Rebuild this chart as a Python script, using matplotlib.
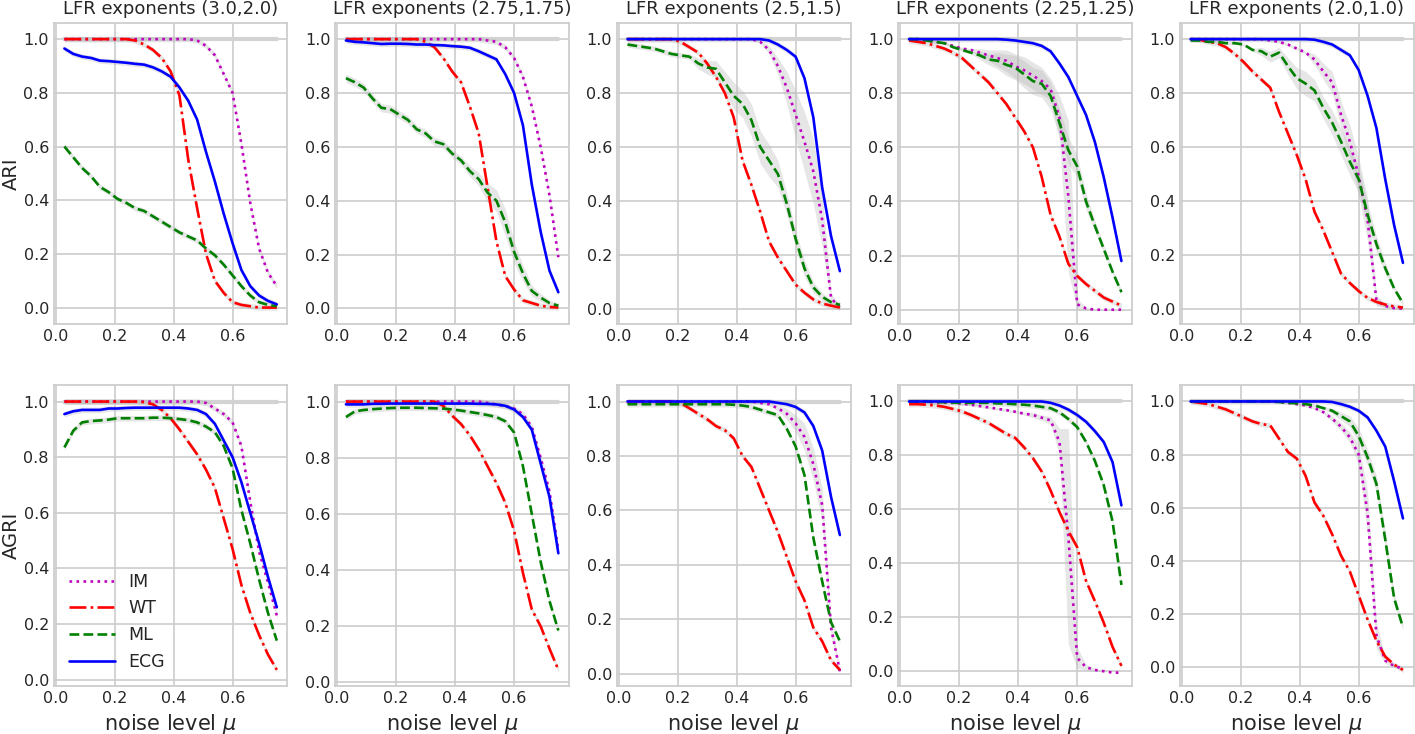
import matplotlib
matplotlib.use('Agg')
import matplotlib.pyplot as plt
import numpy as np

# noise levels
mu = [0.03, 0.06, 0.09, 0.12, 0.15, 0.18, 0.21, 0.24, 0.27, 0.30, 0.33, 0.36, 0.39,
      0.42, 0.45, 0.48, 0.51, 0.54, 0.57, 0.60, 0.63, 0.66, 0.69, 0.72, 0.75]

exponents = ['(3.0,2.0)', '(2.75,1.75)', '(2.5,1.5)', '(2.25,1.25)', '(2.0,1.0)']
methods = ['IM', 'WT', 'ML', 'ECG']
row_labels = ['ARI', 'AGRI']

# ---------------- ARI (top row) ----------------
ari1_im = [1.0]*15 + [0.995, 0.975, 0.94, 0.87, 0.80, 0.61, 0.39, 0.22, 0.13, 0.08]
ari1_wt = [1.0]*8 + [0.995, 0.98, 0.96, 0.93, 0.88, 0.79, 0.55, 0.37, 0.20, 0.10, 0.055, 0.02, 0.01, 0.005, 0.0, 0.0, 0.0]
ari1_ml = [0.60, 0.56, 0.52, 0.49, 0.45, 0.43, 0.405, 0.39, 0.37, 0.36, 0.34, 0.32, 0.30, 0.28, 0.265, 0.25,
           0.22, 0.195, 0.16, 0.12, 0.08, 0.045, 0.02, 0.01, 0.005]
ari1_ecg = [0.965, 0.945, 0.935, 0.93, 0.92, 0.918, 0.915, 0.912, 0.908, 0.905, 0.895, 0.88, 0.86, 0.82, 0.77,
            0.70, 0.58, 0.47, 0.35, 0.24, 0.14, 0.08, 0.045, 0.025, 0.012]

ari2_im = [1.0]*16 + [0.995, 0.99, 0.97, 0.93, 0.86, 0.75, 0.60, 0.42, 0.19]
ari2_wt = [1.0]*9 + [0.99, 0.97, 0.93, 0.88, 0.84, 0.75, 0.65, 0.45, 0.25, 0.12, 0.07, 0.03, 0.02, 0.01, 0.005, 0.003]
ari2_ml = [0.855, 0.84, 0.82, 0.78, 0.745, 0.74, 0.72, 0.70, 0.665, 0.65, 0.62, 0.61, 0.575, 0.55, 0.51, 0.48,
           0.43, 0.40, 0.32, 0.21, 0.13, 0.065, 0.04, 0.02, 0.01]
ari2_ecg = [0.995, 0.99, 0.988, 0.985, 0.982, 0.983, 0.983, 0.982, 0.98, 0.98, 0.978, 0.977, 0.974, 0.972, 0.968,
            0.955, 0.94, 0.925, 0.87, 0.80, 0.68, 0.46, 0.285, 0.14, 0.06]

ari3_im = [1.0]*15 + [0.99, 0.96, 0.90, 0.82, 0.72, 0.62, 0.51, 0.33, 0.04, 0.005]
ari3_wt = [1.0]*6 + [0.99, 0.97, 0.95, 0.91, 0.86, 0.80, 0.71, 0.55, 0.46, 0.36, 0.25, 0.19, 0.14, 0.09, 0.06,
                     0.035, 0.02, 0.012, 0.005]
ari3_ml = [0.98, 0.975, 0.97, 0.965, 0.955, 0.945, 0.94, 0.935, 0.91, 0.895, 0.89, 0.84, 0.79, 0.76, 0.70, 0.60,
           0.55, 0.50, 0.39, 0.26, 0.15, 0.08, 0.045, 0.025, 0.015]
ari3_ecg = [1.0]*16 + [0.995, 0.98, 0.96, 0.935, 0.855, 0.71, 0.45, 0.27, 0.14]

ari4_im = [1.0, 1.0, 0.995, 0.99, 0.985, 0.975, 0.965, 0.96, 0.95, 0.94, 0.93, 0.92, 0.90, 0.885, 0.865, 0.845,
           0.815, 0.71, 0.42, 0.02, 0.005, 0.0, 0.0, 0.0, 0.0]
ari4_wt = [0.995, 0.99, 0.985, 0.975, 0.965, 0.95, 0.93, 0.90, 0.87, 0.84, 0.80, 0.76, 0.71, 0.66, 0.60, 0.49,
           0.35, 0.27, 0.17, 0.125, 0.095, 0.07, 0.045, 0.03, 0.015]
ari4_ml = [1.0, 1.0, 0.995, 0.99, 0.985, 0.97, 0.96, 0.95, 0.94, 0.925, 0.92, 0.905, 0.895, 0.87, 0.845, 0.835,
           0.79, 0.69, 0.59, 0.53, 0.40, 0.31, 0.225, 0.14, 0.065]
ari4_ecg = [1.0]*11 + [0.998, 0.995, 0.99, 0.985, 0.975, 0.955, 0.91, 0.86, 0.79, 0.72, 0.62, 0.49, 0.34, 0.18]

ari5_im = [1.0]*9 + [0.995, 0.99, 0.98, 0.965, 0.95, 0.925, 0.88, 0.84, 0.72, 0.62, 0.49, 0.33, 0.03, 0.01, 0.002, 0.0]
ari5_wt = [1.0, 0.998, 0.99, 0.985, 0.97, 0.945, 0.915, 0.88, 0.85, 0.82, 0.73, 0.65, 0.57, 0.48, 0.36, 0.29,
           0.21, 0.13, 0.095, 0.065, 0.04, 0.025, 0.015, 0.008, 0.004]
ari5_ml = [0.995, 0.995, 0.99, 0.99, 0.985, 0.985, 0.98, 0.96, 0.955, 0.935, 0.95, 0.90, 0.855, 0.835, 0.81,
           0.745, 0.69, 0.62, 0.545, 0.48, 0.35, 0.24, 0.15, 0.075, 0.02]
ari5_ecg = [1.0]*14 + [0.998, 0.99, 0.98, 0.96, 0.94, 0.885, 0.79, 0.67, 0.48, 0.31, 0.17]

# ---------------- AGRI (bottom row) ----------------
agri1_im = [1.0]*16 + [0.995, 0.975, 0.955, 0.925, 0.84, 0.64, 0.46, 0.35, 0.23]
agri1_wt = [1.0]*9 + [0.998, 0.99, 0.97, 0.94, 0.90, 0.855, 0.81, 0.755, 0.69, 0.58, 0.47, 0.34, 0.24, 0.16, 0.09, 0.035]
agri1_ml = [0.835, 0.895, 0.925, 0.93, 0.932, 0.935, 0.94, 0.94, 0.94, 0.94, 0.942, 0.942, 0.94, 0.937, 0.933,
            0.925, 0.91, 0.89, 0.84, 0.76, 0.61, 0.49, 0.36, 0.24, 0.14]
agri1_ecg = [0.955, 0.965, 0.97, 0.97, 0.97, 0.975, 0.975, 0.977, 0.978, 0.978, 0.978, 0.978, 0.978, 0.978, 0.975,
             0.97, 0.955, 0.92, 0.86, 0.80, 0.71, 0.60, 0.49, 0.37, 0.26]

agri2_im = [1.0]*16 + [0.995, 0.99, 0.985, 0.975, 0.955, 0.91, 0.80, 0.68, 0.47]
agri2_wt = [1.0]*11 + [0.985, 0.95, 0.92, 0.88, 0.83, 0.77, 0.71, 0.64, 0.54, 0.39, 0.26, 0.20, 0.12, 0.045]
agri2_ml = [0.945, 0.965, 0.97, 0.973, 0.975, 0.977, 0.978, 0.978, 0.978, 0.977, 0.976, 0.975, 0.972, 0.968, 0.963,
            0.958, 0.952, 0.945, 0.93, 0.89, 0.77, 0.60, 0.43, 0.29, 0.185]
agri2_ecg = [0.99, 0.99, 0.99, 0.992, 0.992, 0.993, 0.993, 0.993, 0.993, 0.993, 0.993, 0.993, 0.993, 0.993, 0.993,
             0.992, 0.992, 0.99, 0.985, 0.972, 0.945, 0.90, 0.78, 0.66, 0.46]

agri3_im = [1.0]*15 + [0.995, 0.99, 0.975, 0.955, 0.92, 0.87, 0.77, 0.62, 0.17, 0.01]
agri3_wt = [1.0]*6 + [0.995, 0.975, 0.955, 0.935, 0.91, 0.895, 0.865, 0.80, 0.76, 0.68, 0.60, 0.52, 0.43, 0.34,
                      0.27, 0.17, 0.12, 0.05, 0.015]
agri3_ml = [0.99]*12 + [0.988, 0.985, 0.98, 0.97, 0.96, 0.95, 0.90, 0.835, 0.73, 0.50, 0.34, 0.19, 0.12]
agri3_ecg = [1.0]*17 + [0.995, 0.99, 0.98, 0.96, 0.91, 0.82, 0.65, 0.51]

agri4_im = [1.0, 1.0, 0.998, 0.997, 0.996, 0.995, 0.992, 0.988, 0.983, 0.978, 0.973, 0.968, 0.962, 0.955, 0.95,
            0.94, 0.93, 0.85, 0.50, 0.05, 0.015, 0.005, 0.0, -0.005, -0.005]
agri4_wt = [0.99, 0.99, 0.988, 0.985, 0.98, 0.972, 0.963, 0.95, 0.935, 0.92, 0.90, 0.88, 0.865, 0.83, 0.79, 0.74,
            0.67, 0.59, 0.52, 0.46, 0.335, 0.26, 0.18, 0.09, 0.02]
agri4_ml = [1.0, 1.0, 1.0, 0.998, 0.997, 0.996, 0.995, 0.995, 0.995, 0.995, 0.993, 0.992, 0.99, 0.988, 0.985,
            0.98, 0.975, 0.96, 0.935, 0.905, 0.85, 0.78, 0.69, 0.555, 0.32]
agri4_ecg = [1.0]*16 + [0.995, 0.985, 0.97, 0.95, 0.925, 0.89, 0.85, 0.775, 0.615]

agri5_im = [1.0]*10 + [0.998, 0.995, 0.99, 0.985, 0.975, 0.96, 0.935, 0.905, 0.865, 0.80, 0.58, 0.12, 0.025, 0.005, -0.005]
agri5_wt = [1.0, 0.995, 0.99, 0.98, 0.97, 0.955, 0.94, 0.925, 0.915, 0.91, 0.86, 0.81, 0.785, 0.72, 0.62, 0.57,
            0.50, 0.42, 0.36, 0.27, 0.18, 0.10, 0.04, 0.01, -0.01]
agri5_ml = [1.0]*10 + [0.998, 0.995, 0.993, 0.99, 0.985, 0.975, 0.965, 0.945, 0.925, 0.87, 0.79, 0.69, 0.48, 0.26, 0.15]
agri5_ecg = [1.0]*16 + [0.998, 0.99, 0.98, 0.965, 0.94, 0.89, 0.83, 0.70, 0.56]

# spread (half width of the grey band) where it is clearly visible
sd_ari2_ml = [0.015]*14 + [0.02, 0.025, 0.035, 0.04, 0.05, 0.04, 0.03, 0.02, 0.015, 0.01, 0.01]
sd_ari3_ml = [0.01]*8 + [0.02, 0.025, 0.03, 0.04, 0.05, 0.05, 0.06, 0.06, 0.06, 0.05, 0.04, 0.03, 0.03, 0.02, 0.015, 0.01, 0.01]
sd_ari3_im = [0.005]*16 + [0.015, 0.03, 0.06, 0.09, 0.11, 0.12, 0.10, 0.02, 0.005]
sd_ari4_im = [0.005]*8 + [0.015, 0.02, 0.03, 0.04, 0.045, 0.05, 0.05, 0.05, 0.04, 0.08, 0.28, 0.02, 0.005, 0.002, 0.0, 0.0, 0.0]
sd_ari4_ml = [0.005]*8 + [0.015, 0.02, 0.03, 0.04, 0.045, 0.05, 0.05, 0.05, 0.05, 0.05, 0.05, 0.04, 0.03, 0.02, 0.015, 0.01, 0.01]
sd_ari5_im = [0.005]*14 + [0.02, 0.03, 0.04, 0.05, 0.06, 0.07, 0.08, 0.02, 0.005, 0.0, 0.0]
sd_ari5_ml = [0.005]*8 + [0.015, 0.02, 0.02, 0.03, 0.04, 0.045, 0.04, 0.04, 0.045, 0.05, 0.05, 0.05, 0.04, 0.03, 0.02, 0.01, 0.01]
sd_agri3_im = [0.005]*17 + [0.01, 0.02, 0.03, 0.05, 0.06, 0.06, 0.03, 0.005]
sd_agri4_im = [0.005]*14 + [0.01, 0.01, 0.015, 0.05, 0.40, 0.04, 0.01, 0.005, 0.0, 0.0, 0.0]
sd_agri5_im = [0.005]*16 + [0.01, 0.015, 0.02, 0.04, 0.08, 0.05, 0.01, 0.005, 0.0]
sd_agri5_ml = [0.005]*16 + [0.01, 0.015, 0.02, 0.03, 0.03, 0.03, 0.03, 0.02, 0.01]

top = [
    {'IM': ari1_im, 'WT': ari1_wt, 'ML': ari1_ml, 'ECG': ari1_ecg},
    {'IM': ari2_im, 'WT': ari2_wt, 'ML': ari2_ml, 'ECG': ari2_ecg},
    {'IM': ari3_im, 'WT': ari3_wt, 'ML': ari3_ml, 'ECG': ari3_ecg},
    {'IM': ari4_im, 'WT': ari4_wt, 'ML': ari4_ml, 'ECG': ari4_ecg},
    {'IM': ari5_im, 'WT': ari5_wt, 'ML': ari5_ml, 'ECG': ari5_ecg},
]
bottom = [
    {'IM': agri1_im, 'WT': agri1_wt, 'ML': agri1_ml, 'ECG': agri1_ecg},
    {'IM': agri2_im, 'WT': agri2_wt, 'ML': agri2_ml, 'ECG': agri2_ecg},
    {'IM': agri3_im, 'WT': agri3_wt, 'ML': agri3_ml, 'ECG': agri3_ecg},
    {'IM': agri4_im, 'WT': agri4_wt, 'ML': agri4_ml, 'ECG': agri4_ecg},
    {'IM': agri5_im, 'WT': agri5_wt, 'ML': agri5_ml, 'ECG': agri5_ecg},
]
spreads = {
    (0, 1, 'ML'): sd_ari2_ml, (0, 2, 'ML'): sd_ari3_ml, (0, 2, 'IM'): sd_ari3_im,
    (0, 3, 'IM'): sd_ari4_im, (0, 3, 'ML'): sd_ari4_ml, (0, 4, 'IM'): sd_ari5_im,
    (0, 4, 'ML'): sd_ari5_ml, (1, 2, 'IM'): sd_agri3_im, (1, 3, 'IM'): sd_agri4_im,
    (1, 4, 'IM'): sd_agri5_im, (1, 4, 'ML'): sd_agri5_ml,
}

styles = {'IM': dict(color='m', linestyle=':'),
          'WT': dict(color='r', linestyle='-.'),
          'ML': dict(color='g', linestyle='--'),
          'ECG': dict(color='b', linestyle='-')}

plt.style.use('seaborn-v0_8-whitegrid')
plt.rcParams['font.family'] = ['DejaVu Sans']

fig, axes = plt.subplots(2, 5, figsize=(14.15, 7.34), dpi=100)
fig.subplots_adjust(left=0.038, right=0.999, top=0.969, bottom=0.065, wspace=0.205, hspace=0.203)

x = np.array(mu)
for r, rowdata in enumerate([top, bottom]):
    for c, d in enumerate(rowdata):
        ax = axes[r, c]
        ax.plot(x, np.ones_like(x), color='lightgrey', lw=3, zorder=1)
        for m in methods:
            y = np.array(d[m])
            sd = np.array(spreads.get((r, c, m), [0.01]*len(mu)))
            ax.fill_between(x, y - sd, y + sd, color='0.72', alpha=0.35, lw=0, zorder=2)
        for m in methods:
            ax.plot(x, d[m], lw=1.9, label=m, zorder=3, **styles[m])
        ax.set_xticks([0.0, 0.2, 0.4, 0.6])
        ax.tick_params(labelsize=11.5, colors='0.15')
        for s in ax.spines.values():
            s.set_color('0.8')
            s.set_linewidth(1.25)
        ax.grid(True, color='0.8', lw=1.2)
        if r == 0:
            ax.set_title('LFR exponents ' + exponents[c], fontsize=13, color='0.15')
        else:
            ax.set_xlabel(r'noise level $\mu$', fontsize=15, color='0.15')
        if c == 0:
            ax.set_ylabel(row_labels[r], fontsize=14, color='0.15', labelpad=2)

axes[1, 0].legend(loc='lower left', frameon=False, fontsize=12.5, handlelength=2.6)

fig.savefig('out.png', dpi=100)
